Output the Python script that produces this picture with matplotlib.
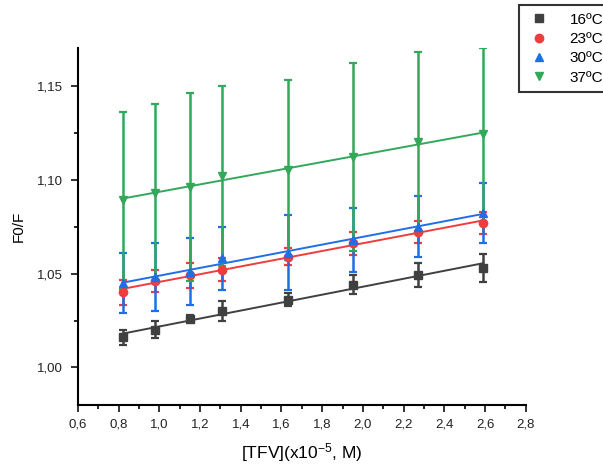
import numpy as np
import matplotlib
matplotlib.use("Agg")
import matplotlib.pyplot as plt
from matplotlib.lines import Line2D
from matplotlib.ticker import MultipleLocator, FuncFormatter

plt.rcParams['font.family'] = ['Liberation Sans', 'DejaVu Sans']
plt.rcParams['mathtext.fontset'] = 'custom'
plt.rcParams['mathtext.rm'] = 'Liberation Sans'
plt.rcParams['mathtext.it'] = 'Liberation Sans'

# concentracao TFV (x10^-5 M)
tfv = [0.82, 0.98, 1.15, 1.31, 1.63, 1.95, 2.27, 2.59]

# F0/F por temperatura
f16 = [1.016, 1.020, 1.026, 1.030, 1.036, 1.044, 1.049, 1.053]
f23 = [1.040, 1.046, 1.049, 1.052, 1.059, 1.066, 1.072, 1.077]
f30 = [1.045, 1.048, 1.051, 1.058, 1.061, 1.068, 1.075, 1.082]
f37 = [1.089, 1.093, 1.096, 1.102, 1.105, 1.112, 1.120, 1.124]

# desvios
e16 = [0.004, 0.0045, 0.002, 0.0055, 0.0035, 0.005, 0.0064, 0.0075]
e23 = [0.0065, 0.006, 0.0065, 0.006, 0.0045, 0.006, 0.006, 0.006]
e30 = [0.016, 0.018, 0.018, 0.017, 0.020, 0.017, 0.016, 0.016]
e37 = [0.047, 0.047, 0.050, 0.048, 0.048, 0.050, 0.048, 0.046]

labels = ['16ºC', '23ºC', '30ºC', '37ºC']
series = [f16, f23, f30, f37]
errors = [e16, e23, e30, e37]
colors = ['#404040', '#f03c3c', '#1e6fe6', '#34a85a']
markers = ['s', 'o', '^', 'v']

fig = plt.figure(figsize=(6.03, 4.71), dpi=100)
ax = fig.add_axes([0.129, 0.140, 0.743, 0.758])

x = np.array(tfv)
handles = []
for y, e, c, m, lab in zip(series, errors, colors, markers, labels):
    y = np.array(y)
    ax.errorbar(x, y, yerr=e, fmt=m, color=c, ms=6, elinewidth=1.8,
                capsize=3, capthick=1.6)
    # ajuste linear
    a, b = np.polyfit(x, y, 1)
    ax.plot(x, a * x + b, color=c, lw=1.4)
    handles.append(Line2D([], [], ls='none', marker=m, color=c, ms=6, label=lab))

ax.set_xlim(0.6, 2.8)
ax.set_ylim(0.98, 1.17)
ax.xaxis.set_major_locator(MultipleLocator(0.2))
ax.xaxis.set_minor_locator(MultipleLocator(0.1))
ax.yaxis.set_major_locator(MultipleLocator(0.05))
ax.yaxis.set_minor_locator(MultipleLocator(0.025))
ax.xaxis.set_major_formatter(FuncFormatter(lambda v, p: f'{v:.1f}'.replace('.', ',')))
ax.yaxis.set_major_formatter(FuncFormatter(lambda v, p: f'{v:.2f}'.replace('.', ',')))

for s in ['top', 'right']:
    ax.spines[s].set_visible(False)
for s in ['left', 'bottom']:
    ax.spines[s].set_linewidth(1.5)
ax.tick_params(which='major', length=5, width=1.3, labelsize=9.5, colors='#222222')
ax.tick_params(axis='y', which='major', pad=6)
ax.tick_params(axis='x', which='major', pad=5)
ax.tick_params(which='minor', length=3, width=1.2)

ax.set_xlabel(r'[TFV](x10$^{-5}$, M)', fontsize=12.5, labelpad=7)
ax.set_ylabel('F0/F', fontsize=11, labelpad=8)

leg = fig.legend(handles=handles, loc='upper left', bbox_to_anchor=(519 / 603, 1 - 5 / 471),
                 bbox_transform=fig.transFigure, borderaxespad=0, frameon=True,
                 fancybox=False, edgecolor='black', fontsize=11,
                 handletextpad=1.2, borderpad=0.5, labelspacing=0.35,
                 handlelength=1.6)
leg.get_frame().set_linewidth(1.5)

fig.savefig('out.png', dpi=100)
